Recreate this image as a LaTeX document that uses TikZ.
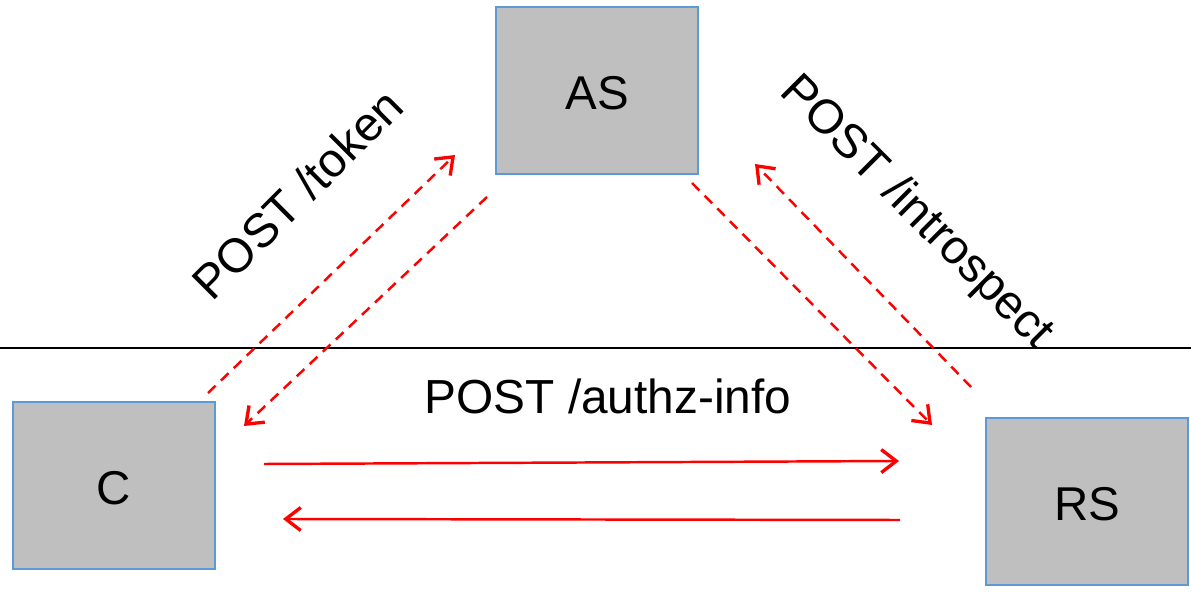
\documentclass[tikz,border=0pt]{standalone}
\usepackage{fontspec}
\setmainfont{Liberation Sans}
\usetikzlibrary{arrows.meta}
\definecolor{boxfill}{HTML}{BFBFBF}
\definecolor{boxline}{HTML}{5B9BD5}
\definecolor{arr}{HTML}{FF0000}
\begin{document}
\begin{tikzpicture}[
  box/.style={draw=boxline, fill=boxfill, line width=0.8pt, minimum width=4.04cm, minimum height=3.34cm, inner sep=0pt, font=\fontsize{27}{32}\selectfont},
  boxtxt/.style={font=\fontsize{27}{32}\selectfont, inner sep=0pt},
  lbl/.style={font=\fontsize{27.2}{32}\selectfont, inner sep=0pt},
  flow/.style={draw=arr, line width=1.4pt, -{Straight Barb[length=0.3cm, width=0.46cm, line width=1.9pt]}},
  dflow/.style={flow, dash pattern=on 6pt off 4.2pt}
]
\useasboundingbox (0,0) rectangle (23.82,11.84);
\draw[line width=0.6pt] (0,4.88) -- (23.82,4.88);
\node[box] (AS) at (11.94,10.03) {};
\node[box] (C) at (2.28,2.13) {};
\node[box] (RS) at (21.74,1.81) {};
\node[boxtxt, anchor=base] (ASt) at ([yshift=-0.39cm]AS.center) {AS};
\node[boxtxt, anchor=base] (Ct) at ([yshift=-0.39cm]C.center) {C};
\node[boxtxt, anchor=base] (RSt) at ([yshift=-0.39cm]RS.center) {RS};
% endpoints
\coordinate (a1s) at (5.28,2.56);
\coordinate (a1e) at (17.98,2.62);
\coordinate (a2s) at (18.0,1.44);
\coordinate (a2e) at (5.66,1.46);
\coordinate (d1s) at (4.16,3.98);
\coordinate (d1e) at (9.10,8.74);
\coordinate (d2s) at (9.74,7.90);
\coordinate (d2e) at (4.88,3.32);
\coordinate (d3s) at (13.84,8.18);
\coordinate (d3e) at (18.64,3.34);
\coordinate (d4s) at (19.42,4.10);
\coordinate (d4e) at (15.10,8.56);
\draw[flow] (a1s) -- (a1e);
\draw[flow] (a2s) -- (a2e);
\draw[dflow] (d1s) -- (d1e);
\draw[dflow] (d2s) -- (d2e);
\draw[dflow] (d3s) -- (d3e);
\draw[dflow] (d4s) -- (d4e);
\node[lbl, anchor=base] (authz) at (12.16,3.56) {POST /authz-info};
\node[lbl, rotate=45] (tok) at (5.94,7.96) {POST /token};
\node[lbl, rotate=-45] (intro) at (18.32,7.58) {POST /introspect};
\end{tikzpicture}
\end{document}
